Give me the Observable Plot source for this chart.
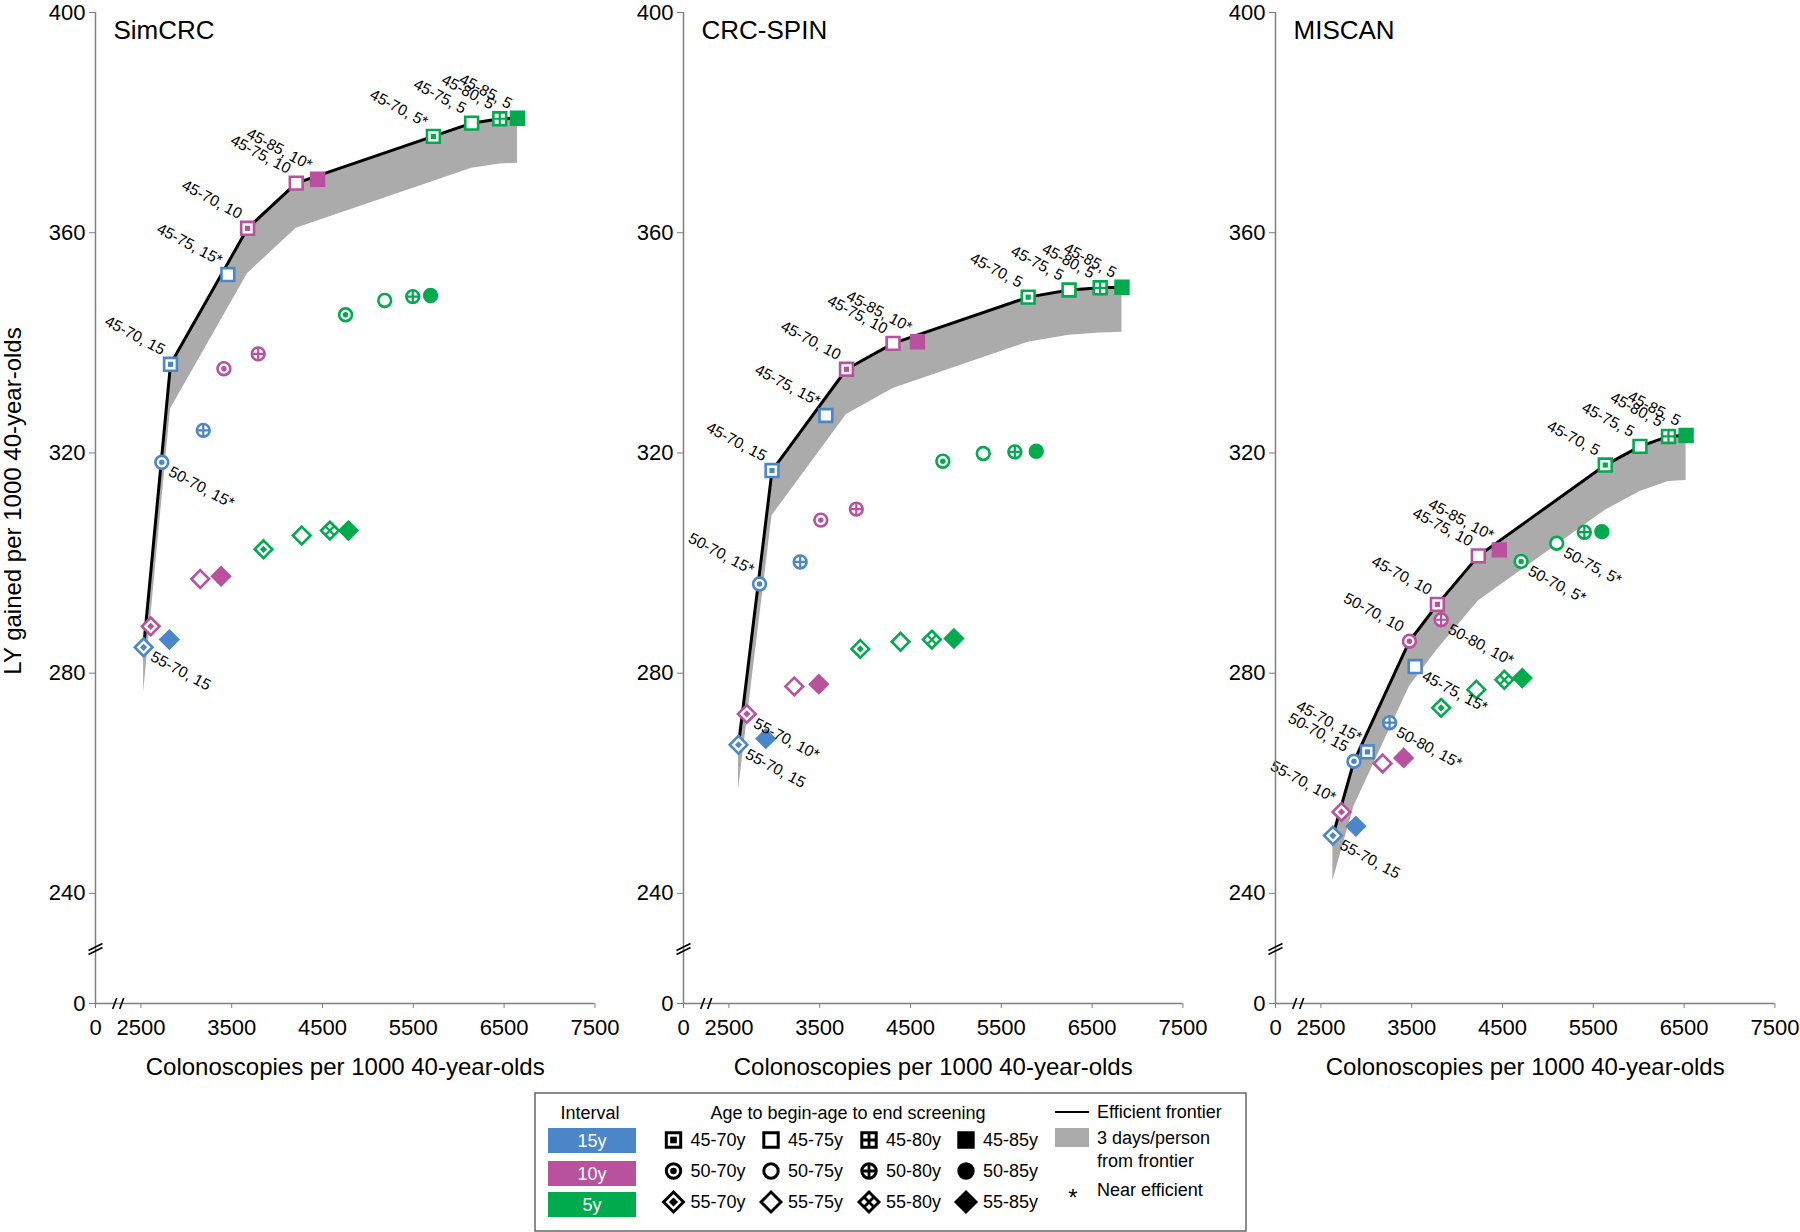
<!DOCTYPE html>
<html><head><meta charset="utf-8">
<script src="https://cdn.jsdelivr.net/npm/d3@7"></script>
<script src="https://cdn.jsdelivr.net/npm/@observablehq/plot@0.6"></script>
<style>
body{margin:0;background:#fff;font-family:"Liberation Sans",Arial,Helvetica,sans-serif;}
#wrap{position:relative;width:1800px;height:1232px;overflow:hidden;}
#wrap svg{position:absolute;top:0;}
</style></head><body><div id="wrap"></div>
<script>
// ---------------- DATA ----------------
const modelNames = ["SimCRC", "CRC-SPIN", "MISCAN"];
const intervals = [15,15,15,15,15,15, 10,10,10,10,10,10,10,10, 5,5,5,5,5,5,5,5,5,5,5,5];
const ageRanges = ["45-70","45-75","50-70","50-80","55-70","55-85",
  "45-70","45-75","45-85","50-70","50-80","55-70","55-75","55-85",
  "45-70","45-75","45-80","45-85","50-70","50-75","50-80","50-85","55-70","55-75","55-80","55-85"];

const simcrcColonoscopies = [2826,3458,2730,3187,2530,2813, 3675,4211,4446,3414,3792,2608,3153,3383, 5721,6143,6452,6648,4754,5185,5494,5690,3850,4271,4581,4785];
const simcrcLYG = [336.1,352.4,318.3,324.1,284.7,286.1, 360.8,369.0,369.7,335.3,338.0,288.5,297.1,297.6, 377.5,379.9,380.7,380.8,345.1,347.7,348.4,348.6,302.5,305.0,305.9,305.9];

const crcspinColonoscopies = [2975,3568,2837,3285,2606,2906, 3795,4308,4577,3512,3903,2697,3220,3490, 5796,6246,6589,6829,4856,5301,5649,5885,3947,4390,4735,4978];
const crcspinLYG = [316.8,326.8,296.2,300.2,267.0,268.1, 335.2,339.9,340.2,307.8,309.8,272.6,277.6,278.0, 348.3,349.6,350.0,350.1,318.5,319.9,320.2,320.3,284.4,285.7,286.1,286.3];

const miscanColonoscopies = [3012,3538,2864,3256,2632,2885, 3783,4234,4465,3475,3824,2726,3180,3411, 5632,6014,6328,6522,4705,5097,5401,5594,3824,4212,4520,4718];
const miscanLYG = [265.7,281.2,264.0,271.0,250.5,252.2, 292.5,301.3,302.4,285.8,289.7,254.8,263.6,264.6, 317.8,321.2,323.0,323.2,300.3,303.6,305.6,305.7,273.7,277.0,278.8,279.1];

// efficient frontier (strategy/interval) and lower edge of the "3 days/person" band
const simcrcFrontier = ["55-70/15","45-70/15","45-70/10","45-75/10","45-75/5","45-80/5","45-85/5"];
const simcrcBandLow = [276.5,328.0,352.6,360.8,371.7,372.5,372.6];
const crcspinFrontier = ["55-70/15","45-70/15","45-70/10","45-75/10","45-70/5","45-75/5","45-80/5","45-85/5"];
const crcspinBandLow = [258.8,308.6,327.0,331.7,340.1,341.4,341.8,341.9];
const miscanFrontier = ["55-70/15","50-70/15","50-70/10","45-70/10","45-75/10","45-70/5","45-75/5","45-80/5","45-85/5"];
const miscanBandLow = [242.3,255.8,277.6,284.3,293.1,309.6,313.0,314.8,315.0];

// point labels: [strategy/interval, text, side]
const simcrcLabels = [
  ["45-70/15","45-70, 15","b"],["45-75/15","45-75, 15*","b"],["45-70/10","45-70, 10","b"],
  ["45-75/10","45-75, 10","b"],["45-85/10","45-85, 10*","b"],["45-70/5","45-70, 5*","b"],
  ["45-75/5","45-75, 5","b"],["45-80/5","45-80, 5","b"],["45-85/5","45-85, 5","b"],
  ["50-70/15","50-70, 15*","a"],["55-70/15","55-70, 15","a"]];
const crcspinLabels = [
  ["45-70/15","45-70, 15","b"],["45-75/15","45-75, 15*","b"],["45-70/10","45-70, 10","b"],
  ["45-75/10","45-75, 10","b"],["45-85/10","45-85, 10*","b"],["45-70/5","45-70, 5","b"],
  ["45-75/5","45-75, 5","b"],["45-80/5","45-80, 5","b"],["45-85/5","45-85, 5","b"],
  ["50-70/15","50-70, 15*","b"],["55-70/10","55-70, 10*","a"],["55-70/15","55-70, 15","a"]];
const miscanLabels = [
  ["45-85/5","45-85, 5","b"],["45-80/5","45-80, 5","b"],["45-75/5","45-75, 5","b"],["45-70/5","45-70, 5","b"],
  ["45-85/10","45-85, 10*","b"],["45-75/10","45-75, 10","b"],["45-70/10","45-70, 10","b"],
  ["50-70/10","50-70, 10","b"],["45-70/15","45-70, 15*","b"],["50-70/15","50-70, 15","b"],
  ["55-70/10","55-70, 10*","b"],
  ["50-75/5","50-75, 5*","a"],["50-70/5","50-70, 5*","a"],["50-80/10","50-80, 10*","a"],
  ["45-75/15","45-75, 15*","a"],["50-80/15","50-80, 15*","a"],["55-70/15","55-70, 15","a"]];

const xTicks = [2000,2500,3500,4500,5500,6500,7500];   // 2000 is drawn as the broken "0"
const yTicks = [220,240,280,320,360,400];              // 220 is drawn as the broken "0"
const legendIntervals = ["15y","10y","5y"];
const legendRanges = [["45-70y","45-75y","45-80y","45-85y"],["50-70y","50-75y","50-80y","50-85y"],["55-70y","55-75y","55-80y","55-85y"]];

// ---------------- STYLE ----------------
const FONT = '"Liberation Sans", Arial, Helvetica, sans-serif';
const COLORS = {15: "#4b87c8", 10: "#b9519f", 5: "#00ab4e"};
const AXIS = "#7f7f7f";

const R = (s) => Math.sqrt(s / Math.PI);
const symSquare = {draw(c, s){const r=R(s); c.moveTo(-r,-r); c.lineTo(r,-r); c.lineTo(r,r); c.lineTo(-r,r); c.closePath();}};
const symCircle = {draw(c, s){const r=R(s); c.moveTo(r,0); c.arc(0,0,r,0,2*Math.PI);}};
const symDiamond = {draw(c, s){const r=R(s)*1.38; c.moveTo(0,-r); c.lineTo(r,0); c.lineTo(0,r); c.lineTo(-r,0); c.closePath();}};
const symPlus = {draw(c, s){const r=R(s); c.moveTo(-r,0); c.lineTo(r,0); c.moveTo(0,-r); c.lineTo(0,r);}};
const symDiamondPlus = {draw(c, s){const r=R(s)*1.38/2; c.moveTo(-r,-r); c.lineTo(r,r); c.moveTo(r,-r); c.lineTo(-r,r);}};
const symBreakX = {draw(c){c.moveTo(-5.5,5.5); c.lineTo(-1.5,-5.5); c.moveTo(1.5,5.5); c.lineTo(5.5,-5.5);}};
const symBreakY = {draw(c){c.moveTo(-7,2); c.lineTo(7,-5); c.moveTo(-7,6); c.lineTo(7,-1);}};
const families = [
  {start: 45, shape: symSquare, cross: symPlus, inner: 2.6},
  {start: 50, shape: symCircle, cross: symPlus, inner: 2.7},
  {start: 55, shape: symDiamond, cross: symDiamondPlus, inner: 2.6}];

function panel(title, X, Y, frontierKeys, bandLow, labels, withYLabel) {
  const pts = ageRanges.map((a, i) => ({
    key: a + "/" + intervals[i], start: +a.slice(0, 2), end: +a.slice(3),
    x: X[i], y: Y[i], c: COLORS[intervals[i]]}));
  const byKey = new Map(pts.map(p => [p.key, p]));
  const fr = frontierKeys.map((k, i) => ({x: byKey.get(k).x, y: byKey.get(k).y, low: bandLow[i]}));
  const lab = labels.map(([k, t, side]) => ({x: byKey.get(k).x, y: byKey.get(k).y, t, side}));
  const dotMarks = [];
  for (const f of families) {
    const sub = pts.filter(p => p.start === f.start);
    dotMarks.push(Plot.dot(sub, {x: "x", y: "y", symbol: f.shape, r: 6.4,
      fill: d => d.end === 85 ? d.c : "white", stroke: "c", strokeWidth: 2.6}));
    dotMarks.push(Plot.dot(sub.filter(p => p.end === 70), {x: "x", y: "y", symbol: f.shape, r: f.inner, fill: "c"}));
    dotMarks.push(Plot.dot(sub.filter(p => p.end === 80), {x: "x", y: "y", symbol: f.cross, r: 6.4, stroke: "c", strokeWidth: 2.2}));
  }
  const marks = [
    Plot.areaY(fr, {x: "x", y1: "low", y2: "y", fill: "#ababab"}),
    Plot.line(fr, {x: "x", y: "y", stroke: "black", strokeWidth: 3}),
    ...dotMarks,
    Plot.text(lab.filter(d => d.side === "b"), {x: "x", y: "y", text: "t", rotate: 28, textAnchor: "end", lineAnchor: "bottom", dx: -9, dy: -9, fontSize: 15.5, fill: "black"}),
    Plot.text(lab.filter(d => d.side === "a"), {x: "x", y: "y", text: "t", rotate: 28, textAnchor: "start", lineAnchor: "top", dx: 11, dy: 3, fontSize: 15.5, fill: "black"}),
    Plot.ruleY([220], {stroke: AXIS, strokeWidth: 1.5}),
    Plot.ruleX([2000], {stroke: AXIS, strokeWidth: 1.5}),
    Plot.axisX(xTicks, {tickFormat: d => d === 2000 ? "0" : String(d), tickSize: 5, tickPadding: 11, fontSize: 22, stroke: AXIS, label: null}),
    Plot.axisY(yTicks, {tickFormat: d => d === 220 ? "0" : String(d), tickSize: 6, tickPadding: 4, fontSize: 22, stroke: AXIS, label: null}),
    Plot.dot([{x: 2250, y: 220}], {x: "x", y: "y", symbol: symBreakX, r: 1, stroke: "black", strokeWidth: 1.6}),
    Plot.dot([{x: 2000, y: 230}], {x: "x", y: "y", symbol: symBreakY, r: 1, stroke: "black", strokeWidth: 1.6}),
    Plot.text([title], {frameAnchor: "top-left", textAnchor: "start", dx: 18, dy: 26, lineAnchor: "bottom", fontSize: 26, fill: "black"}),
    Plot.text(["Colonoscopies per 1000 40-year-olds"], {frameAnchor: "bottom", textAnchor: "middle", dy: 71, lineAnchor: "bottom", fontSize: 24, fill: "black"})
  ];
  if (withYLabel) marks.push(Plot.text(["LY gained per 1000 40-year-olds"], {frameAnchor: "left", textAnchor: "middle", lineAnchor: "middle", dx: -82, dy: -7, rotate: -90, fontSize: 24, fill: "black"}));
  return Plot.plot({
    width: 606, height: 1083, marginLeft: 95, marginRight: 11.6, marginTop: 12, marginBottom: 80,
    x: {domain: [2000, 7500]}, y: {domain: [220, 400]},
    color: {type: "identity"},
    style: {fontFamily: FONT, fontSize: "22px", background: "transparent", overflow: "visible", color: "black"},
    marks
  });
}

const wrap = document.getElementById("wrap");
const panels = [
  [modelNames[0], simcrcColonoscopies, simcrcLYG, simcrcFrontier, simcrcBandLow, simcrcLabels, true, 0],
  [modelNames[1], crcspinColonoscopies, crcspinLYG, crcspinFrontier, crcspinBandLow, crcspinLabels, false, 587.5],
  [modelNames[2], miscanColonoscopies, miscanLYG, miscanFrontier, miscanBandLow, miscanLabels, false, 1180]];
for (const [t, X, Y, F, B, L, yl, left] of panels) {
  const svg = panel(t, X, Y, F, B, L, yl);
  svg.style.position = "absolute"; svg.style.left = left + "px"; svg.style.top = "0px";
  wrap.appendChild(svg);
}

// ---------------- LEGEND ----------------
const lg = d3.create("svg").attr("width", 713).attr("height", 140)
  .style("position", "absolute").style("left", "534px").style("top", "1092px")
  .style("font-family", FONT).style("font-size", "18px");
lg.append("rect").attr("x", 1).attr("y", 1).attr("width", 711).attr("height", 138).attr("fill", "white").attr("stroke", "#666").attr("stroke-width", 1.5);
lg.append("text").attr("x", 56).attr("y", 21).attr("dy", "0.35em").attr("text-anchor", "middle").text("Interval");
const boxY = [36, 69, 100];
legendIntervals.forEach((t, i) => {
  const c = [COLORS[15], COLORS[10], COLORS[5]][i];
  lg.append("rect").attr("x", 14).attr("y", boxY[i]).attr("width", 88).attr("height", 25).attr("fill", c);
  lg.append("text").attr("x", 58).attr("y", boxY[i] + 12.5).attr("dy", "0.35em").attr("text-anchor", "middle").attr("fill", "white").text(t);
});
lg.append("text").attr("x", 314).attr("y", 21).attr("dy", "0.35em").attr("text-anchor", "middle").text("Age to begin-age to end screening");
const rowY = [48, 79, 110], colX = [139.5, 237, 335, 432];
const pathOf = (sym, r) => { const p = d3.path(); sym.draw(p, r * r * Math.PI); return p.toString(); };
legendRanges.forEach((row, ri) => {
  const f = families[ri];
  row.forEach((t, ci) => {
    const g = lg.append("g").attr("transform", `translate(${colX[ci]},${rowY[ri]})`);
    g.append("path").attr("d", pathOf(f.shape, 7.2)).attr("fill", ci === 3 ? "black" : "white").attr("stroke", "black").attr("stroke-width", 3);
    if (ci === 0) g.append("path").attr("d", pathOf(f.shape, 3.3)).attr("fill", "black");
    if (ci === 2) g.append("path").attr("d", pathOf(f.cross, 7.2)).attr("stroke", "black").attr("stroke-width", 2.8).attr("fill", "none");
    lg.append("text").attr("x", colX[ci] + 17).attr("y", rowY[ri]).attr("dy", "0.35em").text(t);
  });
});
lg.append("line").attr("x1", 521).attr("x2", 555).attr("y1", 20).attr("y2", 20).attr("stroke", "black").attr("stroke-width", 2);
lg.append("text").attr("x", 563).attr("y", 20).attr("dy", "0.35em").text("Efficient frontier");
lg.append("rect").attr("x", 521).attr("y", 36).attr("width", 34).attr("height", 19).attr("fill", "#ababab");
lg.append("text").attr("x", 563).attr("y", 46).attr("dy", "0.35em").text("3 days/person");
lg.append("text").attr("x", 563).attr("y", 69).attr("dy", "0.35em").text("from frontier");
lg.append("text").attr("x", 539).attr("y", 106).attr("dy", "0.35em").attr("text-anchor", "middle").style("font-size", "24px").text("*");
lg.append("text").attr("x", 563).attr("y", 98).attr("dy", "0.35em").text("Near efficient");
wrap.appendChild(lg.node());
</script></body></html>
